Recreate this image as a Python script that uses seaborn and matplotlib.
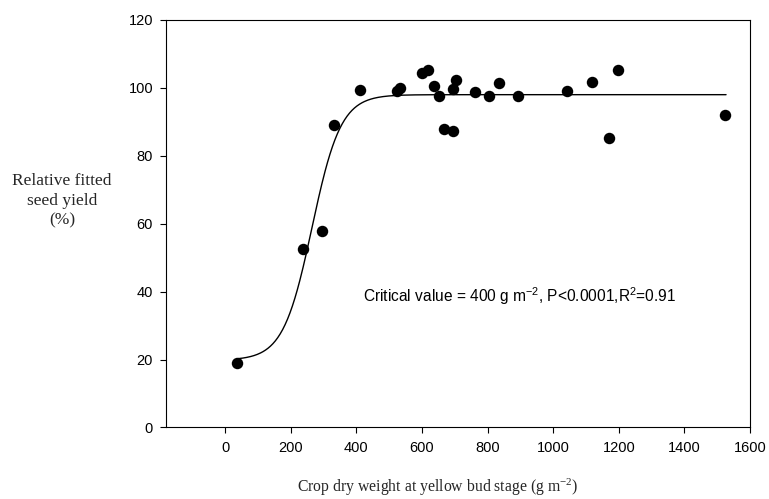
import numpy as np
import pandas as pd
import matplotlib
matplotlib.use("Agg")
import matplotlib.pyplot as plt
import seaborn as sns

# Observed data points (crop dry weight, relative seed yield)
dry_weight = [36, 239, 295, 332, 412, 525, 533, 600, 620, 637, 651, 667, 696,
              696, 704, 763, 805, 836, 894, 1042, 1118, 1169, 1199, 1524]
rel_yield = [19.0, 52.7, 57.9, 89.1, 99.4, 99.1, 100.1, 104.3, 105.2, 100.6, 97.6,
             87.8, 87.4, 99.8, 102.4, 98.8, 97.6, 101.3, 97.6, 99.1, 101.8, 85.2,
             105.2, 91.9]

# Fitted sigmoid parameters (lower asymptote, range, midpoint, slope)
fit_y0 = 19.8
fit_a = 78.2
fit_x0 = 265.0
fit_b = 44.0
fit_xmin, fit_xmax = 36, 1527

x_ticks = [0, 200, 400, 600, 800, 1000, 1200, 1400, 1600]
y_ticks = [0, 20, 40, 60, 80, 100, 120]

sns.set_style("ticks")
plt.rcParams['font.family'] = ['Liberation Sans', 'DejaVu Sans']

fig = plt.figure(figsize=(7.69, 4.99), dpi=100)
ax = fig.add_axes([0.2159, 0.1433, 0.9753 - 0.2159, 0.96 - 0.1433])

df = pd.DataFrame({"x": dry_weight, "y": rel_yield})
xf = np.linspace(fit_xmin, fit_xmax, 600)
yf = fit_y0 + fit_a / (1 + np.exp(-(xf - fit_x0) / fit_b))
fit_df = pd.DataFrame({"x": xf, "y": yf})

sns.lineplot(data=fit_df, x="x", y="y", ax=ax, color="black", linewidth=1.0)
sns.scatterplot(data=df, x="x", y="y", ax=ax, color="black", s=68,
                edgecolor="black", linewidth=0, zorder=3)

ax.set_xlim(-180, 1600)
ax.set_ylim(0, 120)
ax.set_xticks(x_ticks)
ax.set_yticks(y_ticks)
ax.set_xlabel("")
ax.set_ylabel("")
for s in ax.spines.values():
    s.set_linewidth(0.8)
    s.set_color("black")
    s.set_visible(True)
ax.tick_params(axis="both", direction="out", length=4.3, width=0.8,
               colors="black", labelsize=10.5)
ax.tick_params(axis="x", pad=5.5)
ax.tick_params(axis="y", pad=5)

ax.text(421, 38.6,
        r"Critical value = 400 g m$\mathregular{^{-2}}$, P<0.0001,R$\mathregular{^{2}}$=0.91",
        ha="left", va="center", fontsize=11.2, color="black")

fig.text(62 / 769, 1 - 201 / 499, "Relative fitted\nseed yield\n(%)",
         ha="center", va="center", multialignment="center",
         fontsize=12.5, family="Liberation Serif", linespacing=1.3)
fig.text(438 / 769, 1 - 487 / 499,
         r"Crop dry weight at yellow bud stage (g m$\mathregular{^{-2}}$)",
         ha="center", va="center", fontsize=11.3, family="Liberation Serif")

fig.savefig("out.png", dpi=100)
